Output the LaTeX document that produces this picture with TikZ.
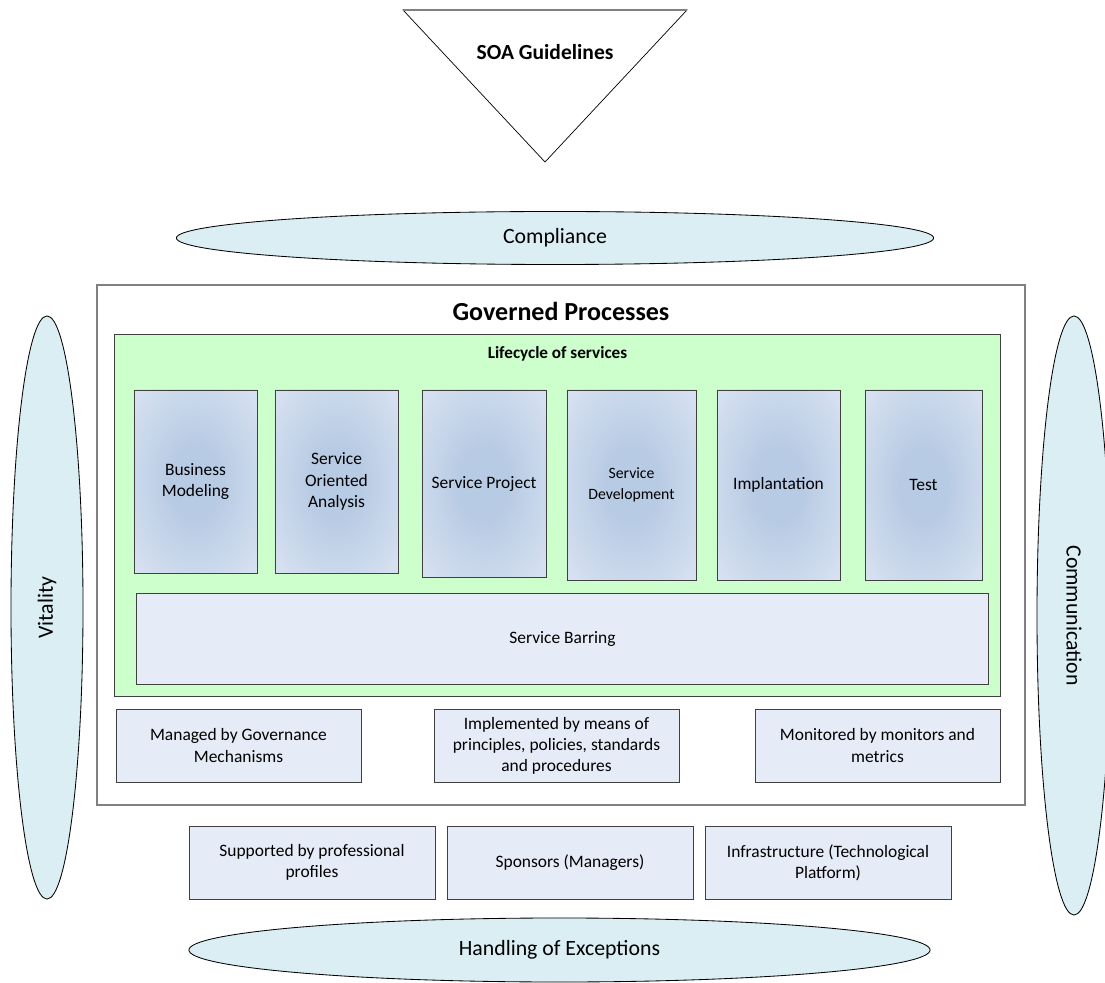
\documentclass[tikz,border=0pt]{standalone}
\usepackage{fontspec}
\setmainfont{Carlito}
\usetikzlibrary{shapes.geometric, positioning, calc}

\definecolor{ovalblue}{RGB}{218,238,243}
\definecolor{lifegreen}{RGB}{204,255,204}
\definecolor{boxblue}{RGB}{230,236,247}
\definecolor{boxcore}{RGB}{184,203,228}
\definecolor{edgegray}{RGB}{64,64,64}

\pgfdeclareradialshading{stageglow}{\pgfpoint{0bp}{0bp}}{color(0bp)=(boxcore); color(10bp)=(boxcore); color(46bp)=(boxblue); color(100bp)=(boxblue)}

\tikzset{
    oval/.style={ellipse, draw=black, fill=ovalblue, inner sep=0pt, line width=0.6pt,
        font=\fontsize{15.5}{18}\selectfont},
    infobox/.style={rectangle, draw=edgegray, fill=boxblue, align=center, inner sep=2pt,
        line width=0.6pt, minimum height=1.825cm, font=\fontsize{12.4}{15}\selectfont},
    stagebox/.style={rectangle, draw=edgegray, shading=stageglow,
        align=center, inner sep=2pt, line width=0.6pt},
}

\begin{document}
\begin{tikzpicture}[x=0.025cm, y=-0.025cm]
\useasboundingbox (0,0) rectangle (1105,983);

% Guidelines on top
\coordinate (tl) at (403,10);
\coordinate (tr) at (687,10);
\coordinate (tb) at (545,162);
\draw[black, line width=0.5pt, fill=white] (tl) -- (tr) -- (tb) -- cycle;
\draw[gray, line width=1.2pt] (tl) -- (tr);
\node[font=\bfseries\fontsize{15.3}{18}\selectfont] (soa) at (545,52) {SOA Guidelines};

% Ovals round the governed processes
\node[oval, minimum width=18.925cm, minimum height=1.325cm] (compl) at (555,238) {Compliance};
\node[oval, minimum width=18.525cm, minimum height=1.6cm] (exc) at (559.5,950) {Handling of Exceptions};
\node[oval, rotate=90, minimum width=14.575cm, minimum height=1.8cm] (vit) at (47,607.5) {Vitality};
\node[oval, rotate=-90, minimum width=14.975cm, minimum height=1.85cm] (comm) at (1074,615.5) {Communication};

% Governed processes frame
\node[draw=gray, line width=1.2pt, fill=white, minimum width=23.2cm, minimum height=13cm] (gov) at (561,545) {};
\node[font=\bfseries\fontsize{18.5}{22}\selectfont] (govtitle) at (561,311) {Governed Processes};

% Lifecycle of services
\node[draw=edgegray, line width=0.6pt, fill=lifegreen, minimum width=22.125cm, minimum height=9.05cm] (life) at (557.5,515) {};
\node[font=\bfseries\fontsize{12.2}{14}\selectfont] (lifetitle) at (557.5,354) {Lifecycle of services};

\foreach \nm/\cx/\cy/\bw/\bh/\fs/\txt in {
    bm/195.5/481.5/3.075/4.575/12.4/{Business\\Modeling},
    soan/336.5/481.5/3.075/4.575/12.4/{Service\\Oriented\\Analysis},
    sp/484/483.5/3.1/4.675/12.4/{Service Project},
    sd/631.5/485/3.225/4.75/11.2/{Service\\Development},
    impl/778.5/485/3.075/4.75/12.4/{Implantation},
    test/923.5/485/2.925/4.75/12.4/{Test}} {
    \node[stagebox, minimum width=\bw cm, minimum height=\bh cm,
        font=\fontsize{\fs}{15}\selectfont] (\nm) at (\cx,\cy) {\txt};
}
\node[infobox, minimum width=21.275cm, minimum height=2.275cm] (barr) at (562.5,638.5) {Service Barring};

% Boxes inside the frame
\node[infobox, minimum width=6.125cm] (mgd) at (238.5,745.5) {Managed by Governance\\Mechanisms};
\node[infobox, minimum width=6.125cm] (impd) at (556.5,745.5) {Implemented by means of\\principles, policies, standards\\and procedures};
\node[infobox, minimum width=6.125cm] (mon) at (877.5,745.5) {Monitored by monitors and\\metrics};

% Boxes below the frame
\node[infobox, minimum width=6.15cm] (sup) at (312,862.5) {Supported by professional\\profiles};
\node[infobox, minimum width=6.15cm] (spons) at (570,862.5) {Sponsors (Managers)};
\node[infobox, minimum width=6.15cm] (infra) at (828,862.5) {Infrastructure (Technological\\Platform)};
\end{tikzpicture}
\end{document}
